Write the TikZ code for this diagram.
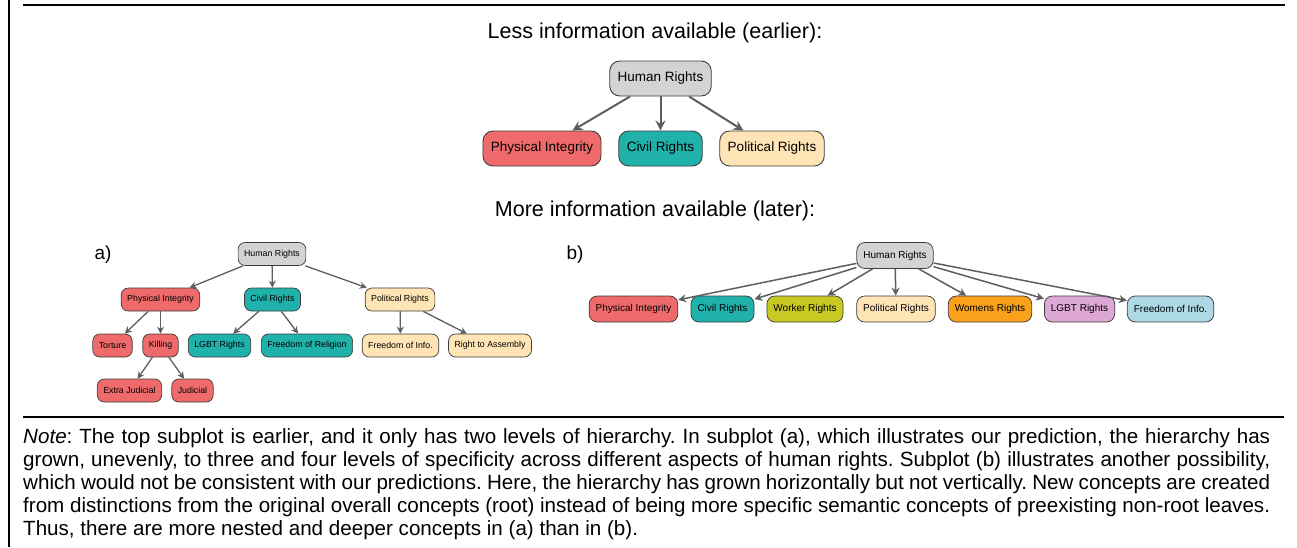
\documentclass[tikz,border=0pt]{standalone}
\usepackage{fontspec}
\setmainfont{Liberation Sans}
\usetikzlibrary{arrows.meta}
\frenchspacing
\definecolor{cgrey}{HTML}{D3D3D3}
\definecolor{cred}{HTML}{EF6B6B}
\definecolor{cteal}{HTML}{20B2AA}
\definecolor{cmocc}{HTML}{FFE4B5}
\definecolor{cworker}{HTML}{C9C924}
\definecolor{corange}{HTML}{F9A11B}
\definecolor{cplum}{HTML}{DDA8D5}
\definecolor{cblue}{HTML}{ADD8E6}
\definecolor{cedge}{HTML}{5E5E5E}
\definecolor{cborder}{HTML}{3C3C3C}
\begin{document}
\begin{tikzpicture}[x=1pt,y=-1pt,
  bigbox/.style={draw=cborder, line width=0.9pt, rounded corners=10pt, minimum height=35pt, inner xsep=8pt, inner ysep=0pt, font=\fontsize{13.5}{16}\selectfont},
  smallbox/.style={draw=cborder, line width=0.7pt, rounded corners=7pt, minimum height=23pt, inner xsep=6pt, inner ysep=0pt, font=\fontsize{8.8}{10}\selectfont},
  midbox/.style={draw=cborder, line width=0.75pt, rounded corners=8pt, minimum height=26pt, inner xsep=6.5pt, inner ysep=0pt, font=\fontsize{10}{12}\selectfont},
  bigarrow/.style={draw=cedge, line width=2pt, -{Stealth[length=10pt,width=10pt]}},
  smallarrow/.style={draw=cedge, line width=1.3pt, -{Stealth[length=7pt,width=7pt]}},
  midarrow/.style={draw=cedge, line width=1.5pt, -{Stealth[length=8pt,width=8pt]}},
  title/.style={font=\fontsize{21.5}{25}\selectfont, inner sep=0pt},
  panel/.style={font=\fontsize{19}{22}\selectfont, inner sep=0pt},
  noteline/.style={font=\fontsize{20.6}{24}\selectfont, inner sep=0pt, anchor=base west},
  rulestyle/.style={line width=2pt, black}
]
\useasboundingbox (0,0) rectangle (1297,547);
% frame lines
\coordinate (lt) at (9,0);
\coordinate (lb) at (9,547);
\coordinate (tl) at (23,5);
\coordinate (tr) at (1285,5);
\coordinate (ml) at (23,417);
\coordinate (mr) at (1284,417);
\draw[rulestyle] (lt) -- (lb);
\draw[rulestyle] (tl) -- (tr);
\draw[rulestyle] (ml) -- (mr);

% titles
\node[title] (t1) at (655,33) {Less information available (earlier):};
\node[title] (t2) at (655,211) {More information available (later):};

% top tree
\node[bigbox, fill=cgrey] (hr0) at (660.5,78.5) {Human Rights};
\node[bigbox, fill=cred] (pi0) at (542,148.5) {Physical Integrity};
\node[bigbox, fill=cteal] (cr0) at (660.5,148.5) {Civil Rights};
\node[bigbox, fill=cmocc] (pr0) at (772,148.5) {Political Rights};
\draw[bigarrow] (hr0) -- (pi0);
\draw[bigarrow] (hr0) -- (cr0);
\draw[bigarrow] (hr0) -- (pr0);

% subplot a
\node[panel] (la) at (103,255) {a)};
\node[smallbox, fill=cgrey] (hra) at (272,254) {Human Rights};
\node[smallbox, fill=cred] (pia) at (160.5,299.5) {Physical Integrity};
\node[smallbox, fill=cteal] (cra) at (272.5,299.5) {Civil Rights};
\node[smallbox, fill=cmocc] (pra) at (400,299.5) {Political Rights};
\node[smallbox, fill=cred] (tor) at (112.5,345.5) {Torture};
\node[smallbox, fill=cred] (kil) at (160.5,345.5) {Killing};
\node[smallbox, fill=cteal] (lgbta) at (219.5,345.5) {LGBT Rights};
\node[smallbox, fill=cteal] (for) at (307,345.5) {Freedom of Religion};
\node[smallbox, fill=cmocc] (foia) at (400.5,345.5) {Freedom of Info.};
\node[smallbox, fill=cmocc] (rta) at (490,345.5) {Right to Assembly};
\node[smallbox, fill=cred] (ej) at (129.5,390.5) {Extra Judicial};
\node[smallbox, fill=cred] (jud) at (192.5,390.5) {Judicial};
\draw[smallarrow] (hra) -- (pia);
\draw[smallarrow] (hra) -- (cra);
\draw[smallarrow] (hra) -- (pra);
\draw[smallarrow] (pia) -- (tor);
\draw[smallarrow] (pia) -- (kil);
\draw[smallarrow] (cra) -- (lgbta);
\draw[smallarrow] (cra) -- (for);
\draw[smallarrow] (pra) -- (foia);
\draw[smallarrow] (pra) -- (rta);
\draw[smallarrow] (kil) -- (ej);
\draw[smallarrow] (kil) -- (jud);

% subplot b
\node[panel] (lb2) at (575,255) {b)};
\node[midbox, fill=cgrey] (hrb) at (895,255.5) {Human Rights};
\node[midbox, fill=cred] (pib) at (633.5,309) {Physical Integrity};
\node[midbox, fill=cteal] (crb) at (722.5,309) {Civil Rights};
\node[midbox, fill=cworker] (wrb) at (805,309) {Worker Rights};
\node[midbox, fill=cmocc] (prb) at (896,309) {Political Rights};
\node[midbox, fill=corange] (wob) at (990,309) {Womens Rights};
\node[midbox, fill=cplum] (lgb) at (1079.5,309) {LGBT Rights};
\node[midbox, fill=cblue] (fob) at (1170.5,309) {Freedom of Info.};
\foreach \c in {pib,crb,wrb,prb,wob,lgb,fob} {\draw[midarrow] (hrb) -- (\c);}

% note
\node[noteline] (n1) at (23,443) {\makebox[1247pt][s]{\textit{Note}: The top subplot is earlier, and it only has two levels of hierarchy. In subplot (a), which illustrates our prediction, the hierarchy has}};
\node[noteline] (n2) at (23,466) {\makebox[1247pt][s]{grown, unevenly, to three and four levels of specificity across different aspects of human rights. Subplot (b) illustrates another possibility,}};
\node[noteline] (n3) at (23,489) {\makebox[1247pt][s]{which would not be consistent with our predictions. Here, the hierarchy has grown horizontally but not vertically. New concepts are created}};
\node[noteline] (n4) at (23,512) {\makebox[1247pt][s]{from distinctions from the original overall concepts (root) instead of being more specific semantic concepts of preexisting non-root leaves.}};
\node[noteline] (n5) at (23,535) {Thus, there are more nested and deeper concepts in (a) than in (b).};
\end{tikzpicture}
\end{document}
